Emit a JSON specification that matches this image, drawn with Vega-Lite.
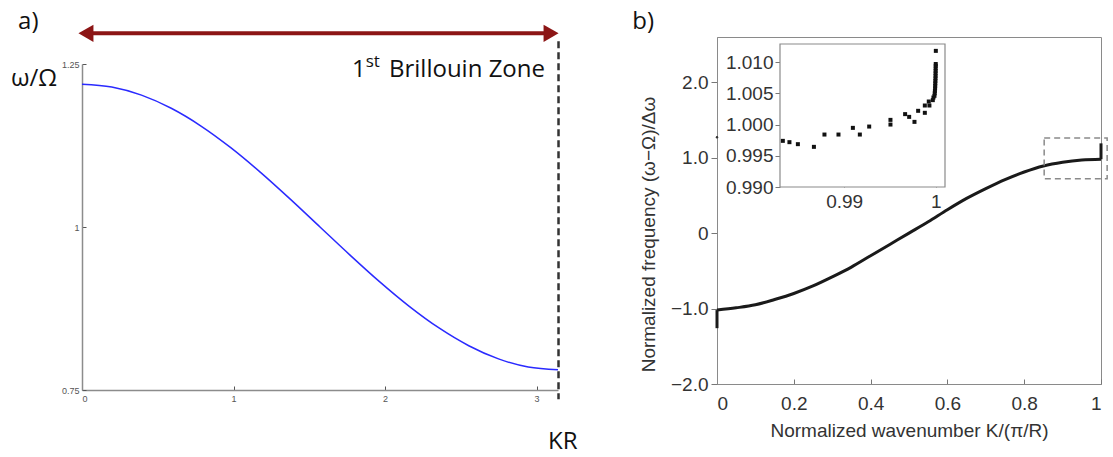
{
  "$schema": "https://vega.github.io/schema/vega-lite/v6.json",
  "padding": {"left": 10, "top": 9, "right": 0, "bottom": 0},
  "spacing": 53,
  "config": {"axis": {"grid": false}, "font": "Liberation Sans"},
  "datasets": {
    "a_curve": [
      {"k": 0, "w": 1.219}, {"k": 0.19635, "w": 1.2148}, {"k": 0.3927, "w": 1.2023}, {"k": 0.58905, "w": 1.1821},
      {"k": 0.7854, "w": 1.1549}, {"k": 0.98175, "w": 1.1217}, {"k": 1.1781, "w": 1.0838}, {"k": 1.37445, "w": 1.0427},
      {"k": 1.5708, "w": 1.0}, {"k": 1.76715, "w": 0.9573}, {"k": 1.9635, "w": 0.9162}, {"k": 2.15984, "w": 0.8783},
      {"k": 2.35619, "w": 0.8451}, {"k": 2.55254, "w": 0.8179}, {"k": 2.74889, "w": 0.7977}, {"k": 2.94524, "w": 0.7852},
      {"k": 3.14159, "w": 0.781}
    ],
    "a_text": [
      {"t": "a)", "k": -0.422, "w": 1.3037},
      {"t": "ω/Ω", "k": -0.469, "w": 1.216},
      {"t": "1", "k": 1.782, "w": 1.23},
      {"t": "Brillouin Zone", "k": 2.026, "w": 1.23},
      {"t": "KR", "k": 3.076, "w": 0.659}
    ],
    "a_sup": [{"t": "st", "k": 1.872, "w": 1.246}],
    "a_arrow": [{"k": 0.04, "k2": 3.1, "w": 1.297}],
    "a_heads": [{"k": 0.026, "w": 1.297, "s": "triangle-left"}, {"k": 3.096, "w": 1.297, "s": "triangle-right"}],
    "a_dash": [{"k": 3.145, "w": 1.285, "w2": 0.736}],
    "b_curve": [
      {"K": 0, "F": -1.02}, {"K": 0.05, "F": -0.99}, {"K": 0.1, "F": -0.95}, {"K": 0.15, "F": -0.88},
      {"K": 0.2, "F": -0.8}, {"K": 0.25, "F": -0.7}, {"K": 0.3, "F": -0.58}, {"K": 0.35, "F": -0.45},
      {"K": 0.4, "F": -0.3}, {"K": 0.45, "F": -0.15}, {"K": 0.5, "F": 0.0}, {"K": 0.55, "F": 0.15},
      {"K": 0.6, "F": 0.31}, {"K": 0.65, "F": 0.46}, {"K": 0.7, "F": 0.59}, {"K": 0.75, "F": 0.71},
      {"K": 0.8, "F": 0.81}, {"K": 0.85, "F": 0.89}, {"K": 0.9, "F": 0.94}, {"K": 0.95, "F": 0.97},
      {"K": 1.0, "F": 0.98}
    ],
    "b_spikes": [{"K": 0, "F": -1.26, "F2": -1.02}, {"K": 1, "F": 0.98, "F2": 1.19}],
    "b_box": [{"K": 0.852, "K2": 1.016, "F": 0.72, "F2": 1.26}],
    "b_dot": [{"K": 0, "F": 1.27}],
    "b_text": [{"t": "b)", "K": -0.2206, "F": 2.704}],
    "inset_frame": [{"Ki": 0.983, "Ki2": 1.001, "Fi": 0.99, "Fi2": 1.0129}],
    "inset": [
      {"Ki": 0.98331, "Fi": 0.99739}, {"Ki": 0.98403, "Fi": 0.99718}, {"Ki": 0.98495, "Fi": 0.99686},
      {"Ki": 0.9867, "Fi": 0.99643}, {"Ki": 0.98785, "Fi": 0.9984}, {"Ki": 0.98938, "Fi": 0.9984},
      {"Ki": 0.99095, "Fi": 0.99947}, {"Ki": 0.99171, "Fi": 0.9984}, {"Ki": 0.99273, "Fi": 0.99968},
      {"Ki": 0.99505, "Fi": 1.00075}, {"Ki": 0.99505, "Fi": 1.0}, {"Ki": 0.99665, "Fi": 1.00167},
      {"Ki": 0.99709, "Fi": 1.00123}, {"Ki": 0.99767, "Fi": 1.00043}, {"Ki": 0.99807, "Fi": 1.0022},
      {"Ki": 0.9988, "Fi": 1.00188}, {"Ki": 0.9988, "Fi": 1.00305}, {"Ki": 0.9993, "Fi": 1.00305},
      {"Ki": 0.99923, "Fi": 1.00369}, {"Ki": 0.99967, "Fi": 1.00391}, {"Ki": 0.99974, "Fi": 1.00433},
      {"Ki": 0.99985, "Fi": 1.0046}, {"Ki": 0.99988, "Fi": 1.005}, {"Ki": 0.9999, "Fi": 1.0054},
      {"Ki": 0.99992, "Fi": 1.0058}, {"Ki": 0.99993, "Fi": 1.0062}, {"Ki": 0.99994, "Fi": 1.0066},
      {"Ki": 0.99995, "Fi": 1.007}, {"Ki": 0.99996, "Fi": 1.0074}, {"Ki": 0.99997, "Fi": 1.0078},
      {"Ki": 0.99997, "Fi": 1.0082}, {"Ki": 0.99998, "Fi": 1.0086}, {"Ki": 0.99998, "Fi": 1.009},
      {"Ki": 0.99999, "Fi": 1.0094}, {"Ki": 0.99999, "Fi": 1.0097}, {"Ki": 1.0, "Fi": 1.0118}
    ]
  },
  "hconcat": [
    {
      "width": 476,
      "height": 353,
      "view": {"stroke": null},
      "layer": [
        {
          "data": {"name": "a_curve"},
          "mark": {"type": "line", "color": "#2a2aff", "strokeWidth": 1.5, "interpolate": "monotone"},
          "encoding": {
            "x": {"field": "k", "type": "quantitative", "scale": {"domain": [0, 3.14159], "nice": false, "zero": false},
              "axis": {"values": [0, 1, 2, 3], "format": "d", "title": null, "domainColor": "#8c8c8c", "domainWidth": 1.5,
                "tickColor": "#555", "tickSize": -4, "labelPadding": 8, "labelFontSize": 9, "labelColor": "#555", "labelFont": "Liberation Sans"}},
            "y": {"field": "w", "type": "quantitative", "scale": {"domain": [0.75, 1.25], "range": [353, 27], "nice": false, "zero": false},
              "axis": {"values": [0.75, 1, 1.25], "format": "~g", "title": null, "domainColor": "#8c8c8c", "domainWidth": 1.5,
                "tickColor": "#555", "tickSize": -4, "labelPadding": 7, "labelFontSize": 9, "labelColor": "#555", "labelFont": "Liberation Sans"}}
          }
        },
        {
          "data": {"name": "a_arrow"},
          "mark": {"type": "rule", "color": "#8c1515", "strokeWidth": 4},
          "encoding": {"x": {"field": "k", "type": "quantitative"}, "x2": {"field": "k2"}, "y": {"field": "w", "type": "quantitative"}}
        },
        {
          "data": {"name": "a_heads"},
          "mark": {"type": "point", "filled": true, "color": "#8c1515", "size": 300, "opacity": 1},
          "encoding": {"x": {"field": "k", "type": "quantitative"}, "y": {"field": "w", "type": "quantitative"},
            "shape": {"field": "s", "type": "nominal", "scale": null, "legend": null}}
        },
        {
          "data": {"name": "a_dash"},
          "mark": {"type": "rule", "color": "#333", "strokeWidth": 2.5, "strokeDash": [7, 4]},
          "encoding": {"x": {"field": "k", "type": "quantitative"}, "y": {"field": "w", "type": "quantitative"}, "y2": {"field": "w2"}}
        },
        {
          "data": {"name": "a_text"},
          "mark": {"type": "text", "align": "left", "baseline": "alphabetic", "font": "Open Sans", "fontSize": 24, "color": "#111"},
          "encoding": {"x": {"field": "k", "type": "quantitative"}, "y": {"field": "w", "type": "quantitative"}, "text": {"field": "t"}}
        },
        {
          "data": {"name": "a_sup"},
          "mark": {"type": "text", "align": "left", "baseline": "alphabetic", "font": "Open Sans", "fontSize": 17, "color": "#111"},
          "encoding": {"x": {"field": "k", "type": "quantitative"}, "y": {"field": "w", "type": "quantitative"}, "text": {"field": "t"}}
        }
      ]
    },
    {
      "width": 384,
      "height": 347,
      "view": {"stroke": "#8a8a8a", "strokeWidth": 1},
      "resolve": {"scale": {"x": "independent", "y": "independent"}},
      "layer": [
        {
          "layer": [
            {
              "data": {"name": "b_curve"},
              "mark": {"type": "line", "color": "#1a1a1a", "strokeWidth": 3, "interpolate": "monotone"},
              "encoding": {
                "x": {"field": "K", "type": "quantitative", "scale": {"domain": [0, 1], "nice": false, "zero": false},
                  "axis": {"values": [0, 0.2, 0.4, 0.6, 0.8, 1], "labelExpr": "datum.value == 0 ? '0' : datum.value == 1 ? '1' : format(datum.value, '.1f')",
                    "title": "Normalized wavenumber K/(π/R)", "titleFont": "Liberation Sans", "titleFontSize": 19, "titleFontWeight": "normal", "titleColor": "#333", "titlePadding": 8,
                    "domainColor": "#8a8a8a", "tickColor": "#777", "tickSize": -5, "labelPadding": 15,
                    "labelFont": "Liberation Sans", "labelFontSize": 19, "labelColor": "#333"}},
                "y": {"field": "F", "type": "quantitative", "scale": {"domain": [-2, 2.6], "nice": false, "zero": false},
                  "axis": {"values": [-2, -1, 0, 1, 2], "labelExpr": "datum.value == 0 ? '0' : format(datum.value, '.1f')",
                    "title": "Normalized frequency (ω−Ω)/Δω", "titleFont": "Liberation Sans", "titleFontSize": 19, "titleFontWeight": "normal", "titleColor": "#333", "titlePadding": 12, "titleY": 197,
                    "domainColor": "#8a8a8a", "tickColor": "#777", "tickSize": 6, "labelPadding": 3,
                    "labelFont": "Liberation Sans", "labelFontSize": 19, "labelColor": "#333"}}
              }
            },
            {
              "data": {"name": "b_spikes"},
              "mark": {"type": "rule", "color": "#1a1a1a", "strokeWidth": 3},
              "encoding": {"x": {"field": "K", "type": "quantitative"}, "y": {"field": "F", "type": "quantitative"}, "y2": {"field": "F2"}}
            },
            {
              "data": {"name": "b_box"},
              "mark": {"type": "rect", "fillOpacity": 0, "stroke": "#8a8a8a", "strokeWidth": 1.5, "strokeDash": [6, 4]},
              "encoding": {"x": {"field": "K", "type": "quantitative"}, "x2": {"field": "K2"}, "y": {"field": "F", "type": "quantitative"}, "y2": {"field": "F2"}}
            },
            {
              "data": {"name": "b_dot"},
              "mark": {"type": "circle", "color": "#333", "size": 6, "opacity": 1},
              "encoding": {"x": {"field": "K", "type": "quantitative"}, "y": {"field": "F", "type": "quantitative"}}
            },
            {
              "data": {"name": "b_text"},
              "mark": {"type": "text", "align": "left", "baseline": "alphabetic", "font": "Open Sans", "fontSize": 24, "color": "#111"},
              "encoding": {"x": {"field": "K", "type": "quantitative"}, "y": {"field": "F", "type": "quantitative"}, "text": {"field": "t"}}
            }
          ]
        },
        {
          "layer": [
            {
              "data": {"name": "inset_frame"},
              "mark": {"type": "rect", "fill": "white", "stroke": "#8a8a8a", "strokeWidth": 1.2},
              "encoding": {
                "x": {"field": "Ki", "type": "quantitative", "scale": {"domain": [0.983, 1.001], "range": [63, 228], "nice": false, "zero": false},
                  "axis": {"orient": "bottom", "offset": -197, "values": [0.99, 1], "labelExpr": "datum.value == 1 ? '1' : '0.99'", "title": null,
                    "domain": false, "tickColor": "#777", "tickSize": -4, "labelPadding": 9,
                    "labelFont": "Liberation Sans", "labelFontSize": 19, "labelColor": "#333"}},
                "x2": {"field": "Ki2"},
                "y": {"field": "Fi", "type": "quantitative", "scale": {"domain": [0.99, 1.0129], "range": [150, 7], "nice": false, "zero": false},
                  "axis": {"orient": "left", "offset": -63, "values": [0.99, 0.995, 1.0, 1.005, 1.01], "format": ".3f", "title": null,
                    "domain": false, "tickColor": "#777", "tickSize": 5, "labelPadding": 2,
                    "labelFont": "Liberation Sans", "labelFontSize": 19, "labelColor": "#333"}},
                "y2": {"field": "Fi2"}
              }
            },
            {
              "data": {"name": "inset"},
              "mark": {"type": "square", "color": "#111", "size": 16, "opacity": 1},
              "encoding": {"x": {"field": "Ki", "type": "quantitative"}, "y": {"field": "Fi", "type": "quantitative"}}
            }
          ]
        }
      ]
    }
  ]
}
